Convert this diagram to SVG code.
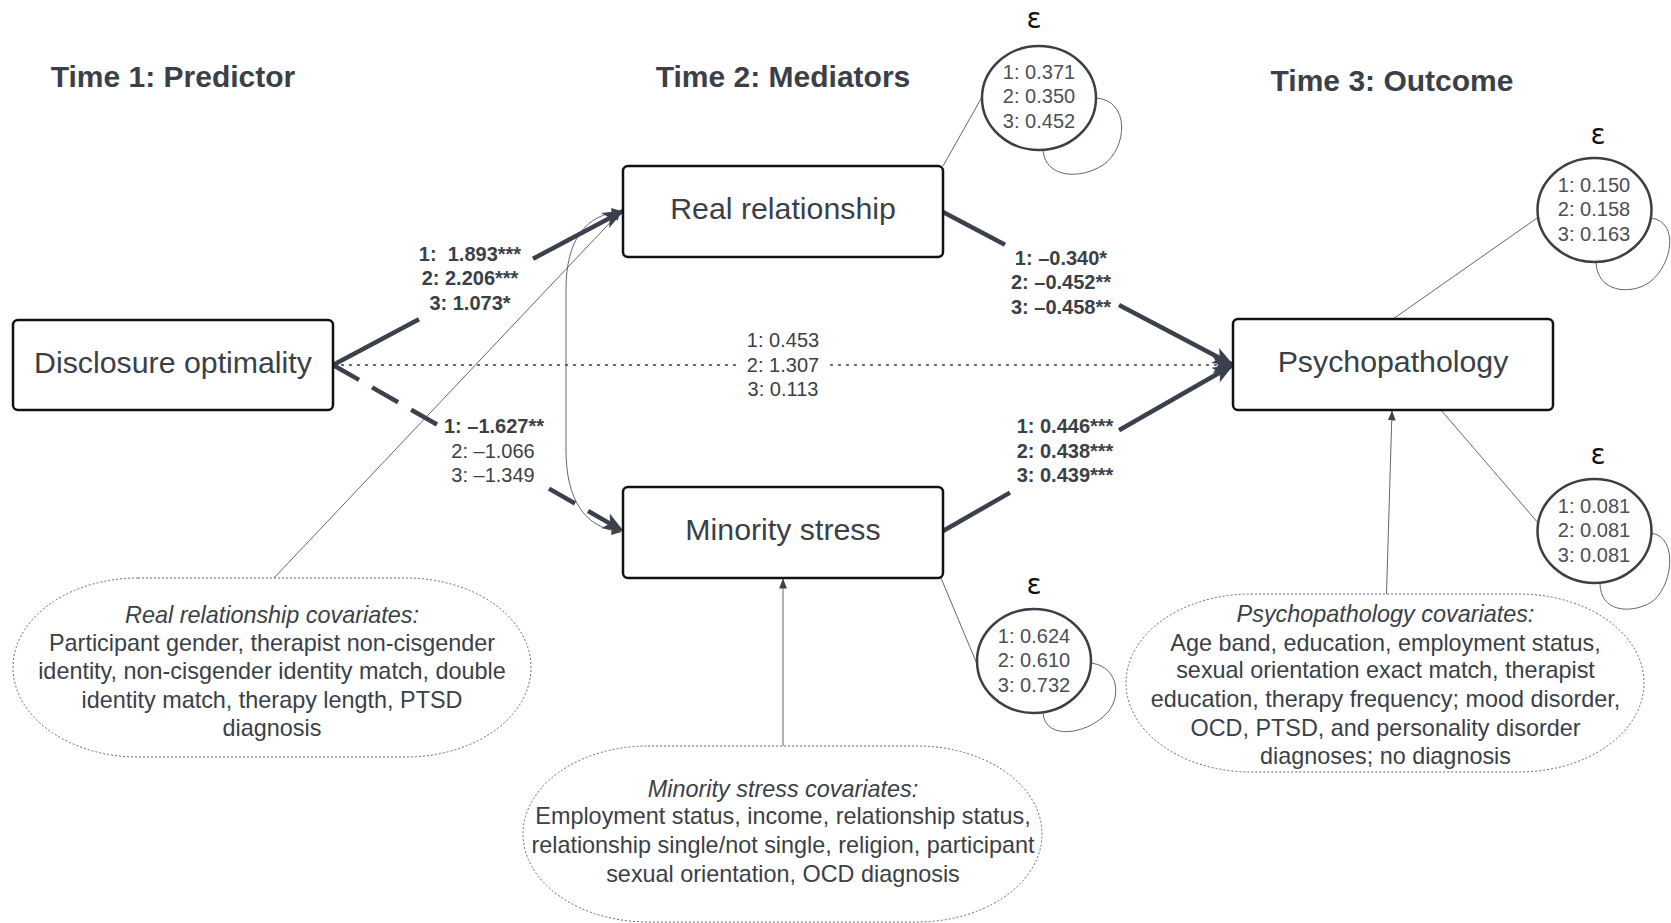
<svg xmlns="http://www.w3.org/2000/svg" width="1671" height="923" viewBox="0 0 1671 923">
<defs>
<style>
text{font-family:"Liberation Sans",Arial,sans-serif;fill:#3a3f48;text-anchor:middle;dominant-baseline:central}
.title{font-size:30px;font-weight:bold}
.node{font-size:30.3px}
.lbl{font-size:20px}
.b{font-weight:bold}
.cov{font-size:23.4px}
.it{font-style:italic}
.eps{font-family:"DejaVu Sans",sans-serif;font-size:28px;fill:#111}
.err{font-size:20px;fill:#4a4f58}
.box{fill:#fff;stroke:#111;stroke-width:2.5}
.circ{fill:#fff;stroke:#3a3f48;stroke-width:2.5}
.thick{stroke:#3b414c;stroke-width:4.5;fill:none}
.dash{stroke-dasharray:30 15}
.dot{stroke:#3b414c;stroke-width:1.6;fill:none;stroke-dasharray:3 5}
.thin{stroke:#555;stroke-width:0.9;fill:none}
.covb{fill:#fff;stroke:#666;stroke-width:1;stroke-dasharray:2 2}
</style>
<marker id="ah" viewBox="0 0 20 16" refX="19" refY="8" markerWidth="22" markerHeight="17" markerUnits="userSpaceOnUse" orient="auto">
<path d="M0,0 L20,8 L0,16 L5,8 z" fill="#3b414c"/>
</marker>
<marker id="as" viewBox="0 0 10 8" refX="9.5" refY="4" markerWidth="10" markerHeight="8" markerUnits="userSpaceOnUse" orient="auto">
<path d="M0,0 L10,4 L0,8 z" fill="#444"/>
</marker>
<marker id="asr" viewBox="0 0 10 8" refX="0.5" refY="4" markerWidth="10" markerHeight="8" markerUnits="userSpaceOnUse" orient="auto">
<path d="M10,0 L0,4 L10,8 z" fill="#444"/>
</marker>
</defs>
<rect width="1671" height="923" fill="#fff"/>

<g id="titles">
<text class="title" x="173" y="76">Time 1: Predictor</text>
<text class="title" x="783" y="76">Time 2: Mediators</text>
<text class="title" x="1392" y="80">Time 3: Outcome</text>
</g>

<g id="connectors">
<line class="thin" x1="274" y1="578" x2="621" y2="211" marker-end="url(#as)"/>
<line class="thin" x1="783" y1="746" x2="783" y2="579" marker-end="url(#as)"/>
<line class="thin" x1="1386.5" y1="594" x2="1392" y2="411" marker-end="url(#as)"/>
<path class="thin" d="M621,211 C585,215 566,240 566,290 L566,450 C566,500 585,528 621,532" marker-start="url(#asr)" marker-end="url(#as)"/>
<line class="thin" x1="943" y1="166" x2="982" y2="97"/>
<line class="thin" x1="1393" y1="319" x2="1540" y2="216"/>
<line class="thin" x1="1441" y1="410" x2="1539" y2="524"/>
<line class="thin" x1="941" y1="578" x2="977" y2="664"/>
<path class="thin" d="M1096,98 C1130,100 1128,148 1103,165 C1080,180 1045,178 1043,150"/>
<path class="thin" d="M1651,218 C1680,222 1672,265 1650,282 C1630,296 1597,292 1596,262"/>
<path class="thin" d="M1651,533 C1680,537 1672,590 1650,603 C1630,614 1600,612 1600,583"/>
<path class="thin" d="M1091,663 C1120,667 1122,700 1105,715 C1085,735 1045,740 1043,713"/>
<line class="dot" x1="333" y1="365" x2="736" y2="365"/>
<line class="dot" x1="830" y1="365" x2="1233" y2="365" marker-end="url(#ah)"/>
<line class="thick" x1="333" y1="365" x2="419" y2="319.3"/>
<line class="thick" x1="533" y1="258.8" x2="623" y2="211" marker-end="url(#ah)"/>
<line class="thick dash" x1="333" y1="365" x2="437" y2="424.5"/>
<line class="thick dash" x1="549" y1="488.6" x2="623" y2="531" marker-end="url(#ah)"/>
<line class="thick" x1="943" y1="212" x2="1005" y2="244.7"/>
<line class="thick" x1="1119" y1="304.9" x2="1233" y2="365" marker-end="url(#ah)"/>
<line class="thick" x1="943" y1="531" x2="1010" y2="492.6"/>
<line class="thick" x1="1119" y1="430.3" x2="1233" y2="365" marker-end="url(#ah)"/>
</g>

<g id="labels">
<text class="lbl b" x="470" y="253.6" style="white-space:pre">1:  1.893***</text>
<text class="lbl b" x="470" y="278">2: 2.206***</text>
<text class="lbl b" x="470" y="302.7">3: 1.073*</text>
<text class="lbl b" x="494" y="426">1: –1.627**</text>
<text class="lbl" x="493" y="451">2: –1.066</text>
<text class="lbl" x="493" y="475">3: –1.349</text>
<text class="lbl" x="783" y="340">1: 0.453</text>
<text class="lbl" x="783" y="364.5">2: 1.307</text>
<text class="lbl" x="783" y="389">3: 0.113</text>
<text class="lbl b" x="1061" y="258">1: –0.340*</text>
<text class="lbl b" x="1061" y="282.4">2: –0.452**</text>
<text class="lbl b" x="1061" y="307">3: –0.458**</text>
<text class="lbl b" x="1065" y="426">1: 0.446***</text>
<text class="lbl b" x="1065" y="451">2: 0.438***</text>
<text class="lbl b" x="1065" y="475">3: 0.439***</text>
</g>

<g id="disclosure">
<rect class="box" x="13" y="320" width="320" height="90" rx="5"/>
<text class="node" x="173" y="362">Disclosure optimality</text>
</g>
<g id="real">
<rect class="box" x="623" y="166" width="320" height="91" rx="5"/>
<text class="node" x="783" y="208">Real relationship</text>
</g>
<g id="minority">
<rect class="box" x="623" y="487" width="320" height="91" rx="5"/>
<text class="node" x="783" y="529">Minority stress</text>
</g>
<g id="psycho">
<rect class="box" x="1233" y="319" width="320" height="91" rx="5"/>
<text class="node" x="1393" y="361">Psychopathology</text>
</g>

<g id="err-real">
<text class="eps" x="1034" y="18">ε</text>
<ellipse class="circ" cx="1039" cy="98" rx="57" ry="52"/>
<text class="err" x="1039" y="71.5">1: 0.371</text>
<text class="err" x="1039" y="96">2: 0.350</text>
<text class="err" x="1039" y="120.5">3: 0.452</text>
</g>
<g id="err-psy1">
<text class="eps" x="1598" y="134">ε</text>
<ellipse class="circ" cx="1594.5" cy="210" rx="57" ry="52"/>
<text class="err" x="1594" y="184.5">1: 0.150</text>
<text class="err" x="1594" y="209">2: 0.158</text>
<text class="err" x="1594" y="233.5">3: 0.163</text>
</g>
<g id="err-psy2">
<text class="eps" x="1598" y="454">ε</text>
<ellipse class="circ" cx="1594.5" cy="531" rx="57" ry="52"/>
<text class="err" x="1594" y="505.5">1: 0.081</text>
<text class="err" x="1594" y="530">2: 0.081</text>
<text class="err" x="1594" y="554.5">3: 0.081</text>
</g>
<g id="err-min">
<text class="eps" x="1034" y="584">ε</text>
<ellipse class="circ" cx="1034" cy="661" rx="57" ry="52"/>
<text class="err" x="1034" y="635.5">1: 0.624</text>
<text class="err" x="1034" y="660">2: 0.610</text>
<text class="err" x="1034" y="684.5">3: 0.732</text>
</g>

<g id="cov-real">
<rect class="covb" x="13" y="578" width="518" height="179" rx="125" ry="89.5"/>
<text class="cov it" x="272" y="615">Real relationship covariates:</text>
<text class="cov" x="272" y="643">Participant gender, therapist non-cisgender</text>
<text class="cov" x="272" y="671">identity, non-cisgender identity match, double</text>
<text class="cov" x="272" y="700">identity match, therapy length, PTSD</text>
<text class="cov" x="272" y="728">diagnosis</text>
</g>
<g id="cov-min">
<rect class="covb" x="523" y="746" width="519" height="176" rx="125" ry="88"/>
<text class="cov it" x="783" y="789">Minority stress covariates:</text>
<text class="cov" x="783" y="816">Employment status, income, relationship status,</text>
<text class="cov" x="783" y="845">relationship single/not single, religion, participant</text>
<text class="cov" x="783" y="874">sexual orientation, OCD diagnosis</text>
</g>
<g id="cov-psy">
<rect class="covb" x="1126" y="594" width="518" height="178" rx="125" ry="89"/>
<text class="cov it" x="1385.5" y="614">Psychopathology covariates:</text>
<text class="cov" x="1385.5" y="642.5">Age band, education, employment status,</text>
<text class="cov" x="1385.5" y="670">sexual orientation exact match, therapist</text>
<text class="cov" x="1385.5" y="699">education, therapy frequency; mood disorder,</text>
<text class="cov" x="1385.5" y="728">OCD, PTSD, and personality disorder</text>
<text class="cov" x="1385.5" y="755.5">diagnoses; no diagnosis</text>
</g>
</svg>
